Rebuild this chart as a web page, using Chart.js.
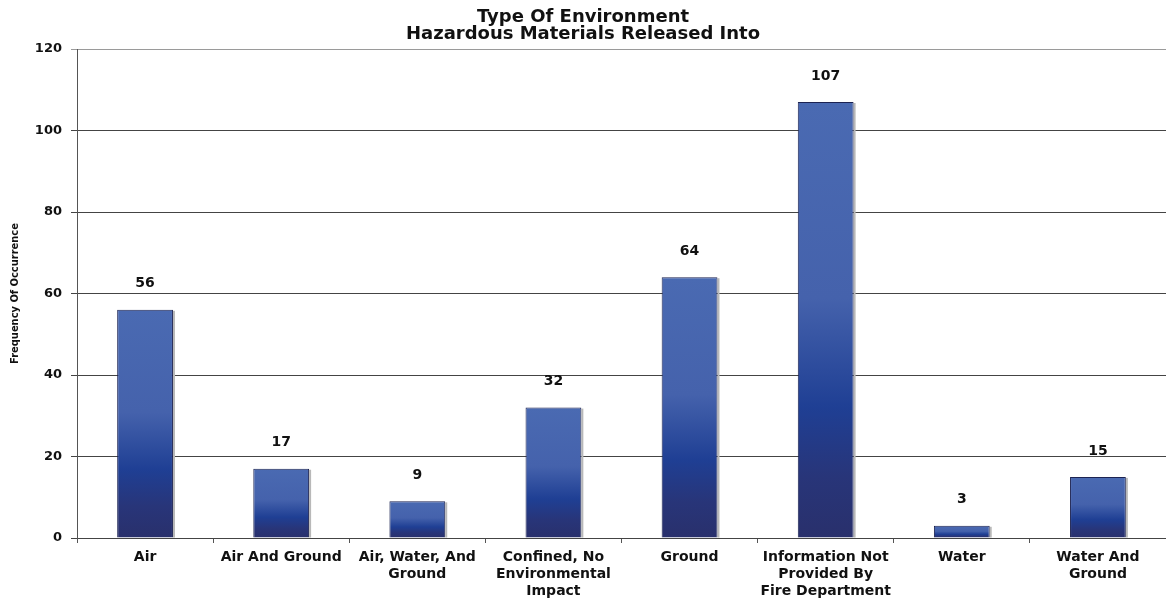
<!DOCTYPE html>
<html>
<head>
<meta charset="utf-8">
<script src="https://cdn.jsdelivr.net/npm/chart.js@4.4.1/dist/chart.umd.min.js"></script>
<style>
  html, body { margin: 0; padding: 0; background: #fff; }
  #wrap { width: 1166px; height: 598px; }
</style>
</head>
<body>
<div id="wrap"><canvas id="env_chart"></canvas></div>
<script>
const categories = [
    ['Air'],
    ['Air And Ground'],
    ['Air, Water, And', 'Ground'],
    ['Confined, No', 'Environmental', 'Impact'],
    ['Ground'],
    ['Information Not', 'Provided By', 'Fire Department'],
    ['Water'],
    ['Water And', 'Ground']
];
const counts = [56, 17, 9, 32, 64, 107, 3, 15];
const yTicks = [0, 20, 40, 60, 80, 100, 120];

const FONT = '"DejaVu Sans", "Liberation Sans", Arial, sans-serif';
Chart.defaults.font.family = FONT;
Chart.defaults.font.weight = 'bold';
Chart.defaults.color = '#111';

// vertical gradient for each bar, light on top, dark band near the bottom
function barFill(c) {
    const chart = c.chart;
    const y = chart.scales.y;
    if (!y || c.raw == null) return '#4562ac';
    const top = y.getPixelForValue(c.raw);
    const base = y.getPixelForValue(0);
    if (!isFinite(top) || !isFinite(base) || base - top < 1) return '#4562ac';
    const g = chart.ctx.createLinearGradient(0, top, 0, base);
    g.addColorStop(0, '#4a6ab2');
    g.addColorStop(0.45, '#4562ac');
    g.addColorStop(0.70, '#1f3f94');
    g.addColorStop(0.86, '#283579');
    g.addColorStop(1, '#29306c');
    return g;
}

const barShadow = {
    id: 'barShadow',
    beforeDatasetsDraw(chart) {
        const ctx = chart.ctx;
        ctx.save();
        ctx.fillStyle = '#b8b8b8';
        chart.getDatasetMeta(0).data.forEach(bar => {
            ctx.fillRect(bar.x + bar.width / 2, bar.y + 1, 2, bar.base - bar.y - 1);
        });
        ctx.restore();
    }
};

const valueLabels = {
    id: 'valueLabels',
    afterDatasetsDraw(chart) {
        const ctx = chart.ctx;
        ctx.save();
        ctx.font = 'bold 14px ' + FONT;
        ctx.fillStyle = '#111';
        ctx.textAlign = 'center';
        ctx.textBaseline = 'middle';
        chart.getDatasetMeta(0).data.forEach((bar, i) => {
            ctx.fillText(counts[i], bar.x, bar.y - 26);
        });
        ctx.restore();
    }
};

new Chart(
    document.getElementById('env_chart'),
    {
        type: 'bar',
        data: {
            labels: categories,
            datasets: [
                {
                    label: 'Frequency',
                    data: counts,
                    backgroundColor: barFill,
                    borderColor: '#1c2352',
                    borderWidth: 1,
                    barPercentage: 0.41,
                    categoryPercentage: 1
                }
            ]
        },
        options: {
            responsive: true,
            maintainAspectRatio: false,
            animation: false,
            layout: { padding: 0 },
            plugins: {
                legend: { display: false },
                tooltip: { enabled: false },
                title: {
                    display: true,
                    text: ['Type Of Environment', 'Hazardous Materials Released Into'],
                    color: '#111',
                    font: { size: 18, weight: 'bold', lineHeight: '17px' },
                    padding: { top: 9, bottom: 6 }
                }
            },
            scales: {
                x: {
                    grid: {
                        offset: true,
                        drawOnChartArea: false,
                        color: '#555',
                        tickLength: 5
                    },
                    border: { color: '#444', width: 1 },
                    ticks: {
                        color: '#111',
                        font: { size: 14, weight: 'bold', lineHeight: '17px' },
                        padding: 6,
                        maxRotation: 0,
                        autoSkip: false
                    },
                    afterFit(scale) { scale.height = 60; }
                },
                y: {
                    min: 0,
                    max: 120,
                    afterBuildTicks(scale) { scale.ticks = yTicks.map(v => ({ value: v })); },
                    grid: {
                        color: c => c.tick && c.tick.value === 120 ? '#9a9a9a' : '#444',
                        lineWidth: 1,
                        tickLength: 6
                    },
                    border: { color: '#555', width: 1 },
                    ticks: {
                        color: '#111',
                        font: { size: 13, weight: 'bold' },
                        padding: 9
                    },
                    title: {
                        display: true,
                        text: 'Frequency Of Occurrence',
                        color: '#111',
                        font: { family: '"DejaVu Sans Condensed", "DejaVu Sans", sans-serif', size: 11, weight: 'bold' },
                        padding: { top: 9, bottom: 0 }
                    },
                    afterFit(scale) { scale.width = 77; }
                }
            }
        },
        plugins: [barShadow, valueLabels]
    }
);
</script>
</body>
</html>
